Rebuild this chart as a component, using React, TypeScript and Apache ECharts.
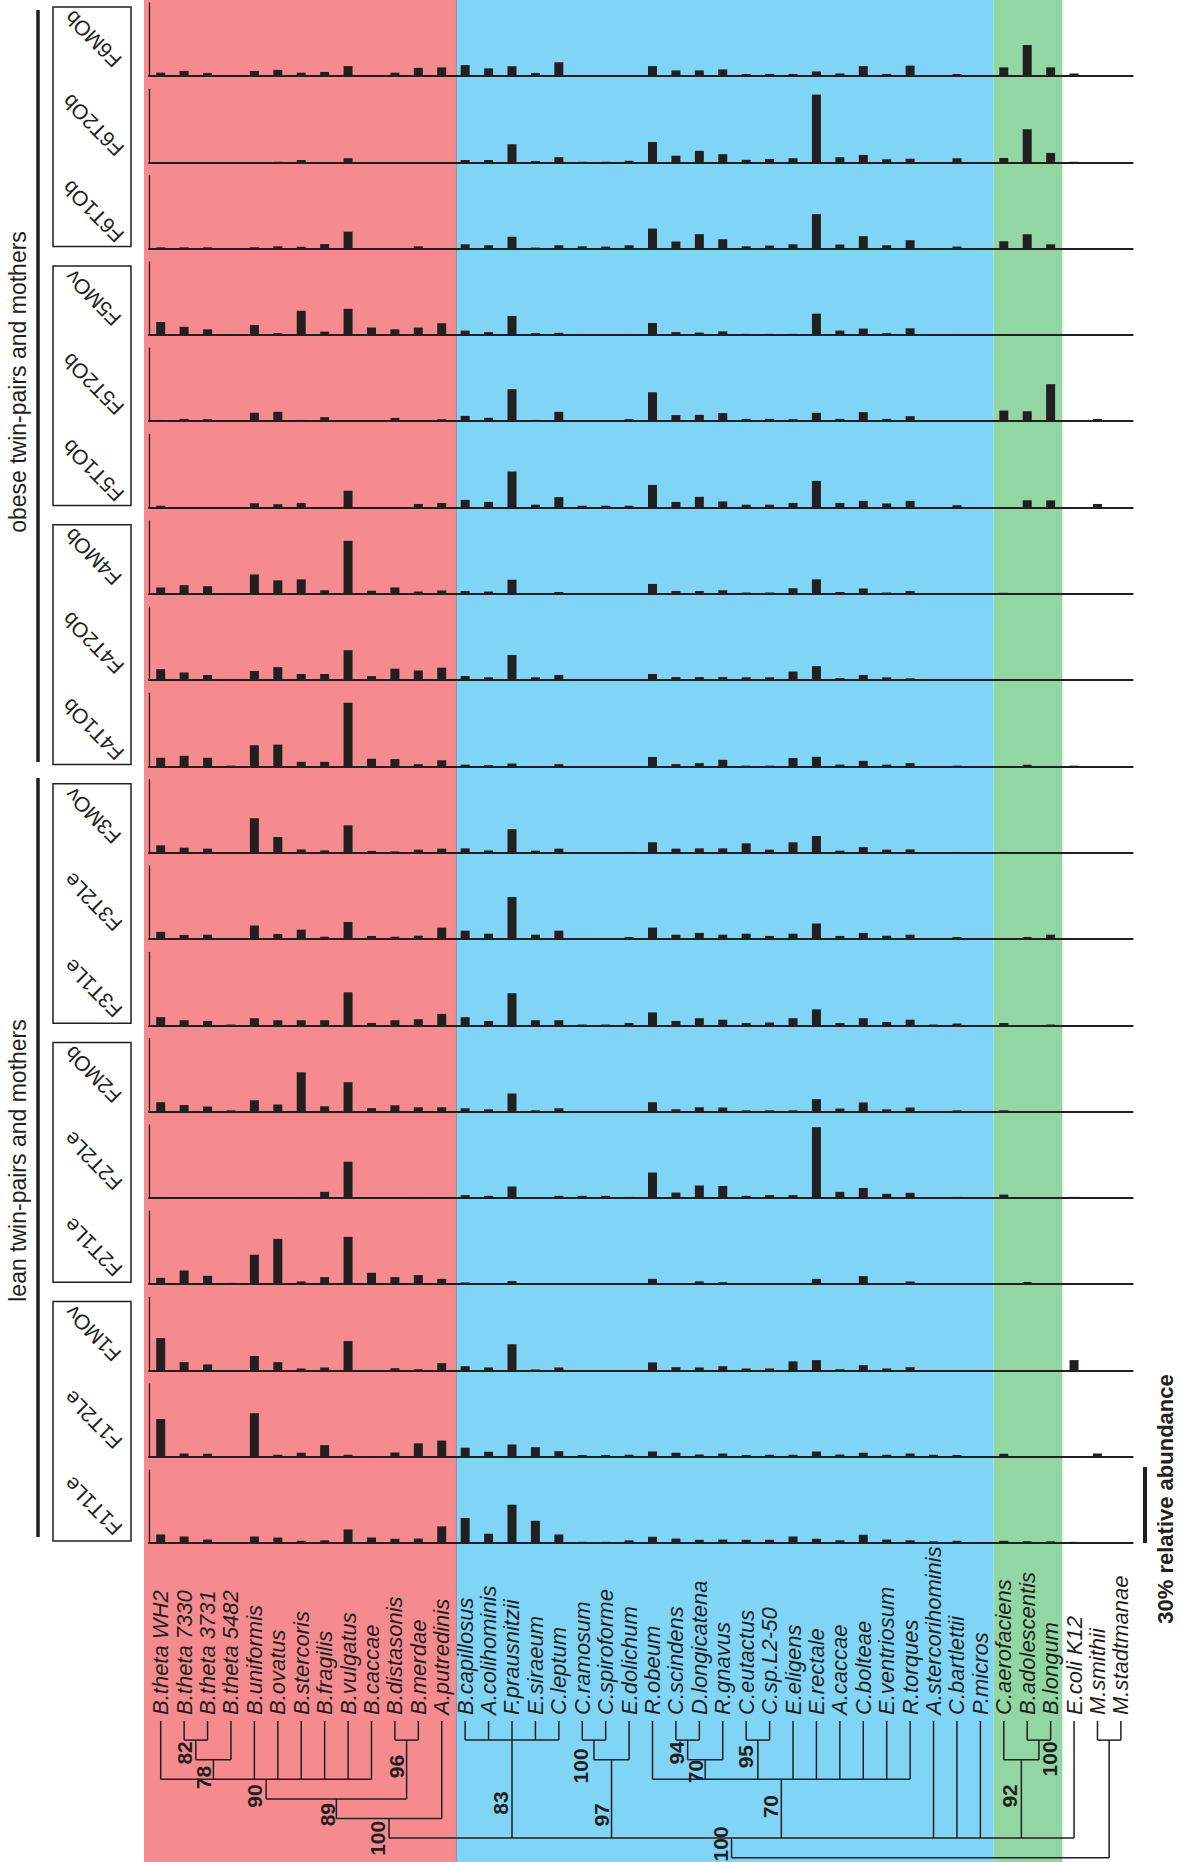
import React, { useEffect, useRef } from "react";
import * as echarts from "echarts";

// ---------------- DATA ----------------
const species = [
  "B.theta WH2", "B.theta 7330", "B.theta 3731", "B.theta 5482", "B.uniformis", "B.ovatus",
  "B.stercoris", "B.fragilis", "B.vulgatus", "B.caccae", "B.distasonis", "B.merdae", "A.putredinis",
  "B.capillosus", "A.colihominis", "F.prausnitzii", "E.siraeum", "C.leptum", "C.ramosum",
  "C.spiroforme", "E.dolichum", "R.obeum", "C.scindens", "D.longicatena", "R.gnavus", "C.eutactus",
  "C.sp.L2-50", "E.eligens", "E.rectale", "A.caccae", "C.bolteae", "E.ventriosum", "R.torques",
  "A.stercorihominis", "C.bartlettii", "P.micros",
  "C.aerofaciens", "B.adolescentis", "B.longum",
  "E.coli K12", "M.smithii", "M.stadtmanae",
];

const samples = [
  "F6MOb", "F6T2Ob", "F6T1Ob", "F5MOv", "F5T2Ob", "F5T1Ob", "F4MOb", "F4T2Ob", "F4T1Ob",
  "F3MOv", "F3T2Le", "F3T1Le", "F2MOb", "F2T2Le", "F2T1Le", "F1MOv", "F1T2Le", "F1T1Le",
];

// relative abundance (%) per species, in species order
const F6MOb = [1.3, 2.0, 1.2, 0.3, 2.0, 2.4, 1.3, 1.6, 3.9, 0.3, 1.3, 3.2, 3.4, 4.3, 3.0, 3.8, 1.2, 5.4, 0.4, 0.3, 0.4, 3.9, 2.2, 2.2, 2.6, 0.8, 0.8, 0.8, 1.8, 1.0, 3.9, 0.8, 4.1, 0.4, 0.8, 0, 3.4, 12.2, 3.4, 1.0, 0.3, 0];
const F6T2Ob = [0, 0, 0, 0, 0, 0.2, 0.9, 0, 1.6, 0, 0, 0, 0, 0.9, 0.9, 7.1, 0.5, 2.0, 0.2, 0.2, 0.6, 8.0, 2.6, 4.5, 3.2, 1.0, 1.3, 1.6, 26.7, 2.0, 2.9, 1.2, 1.4, 0, 1.6, 0, 1.7, 13.0, 3.7, 0.2, 0, 0];
const F6T1Ob = [0.5, 0.5, 0.5, 0, 0.5, 0.9, 0.7, 1.8, 6.7, 0, 0, 0.9, 0, 1.7, 1.3, 4.7, 0.4, 1.3, 0.9, 0.8, 1.3, 7.9, 2.8, 5.7, 3.7, 0.9, 1.2, 1.7, 13.6, 1.6, 4.9, 1.3, 3.3, 0, 0.8, 0, 2.9, 5.7, 1.7, 0, 0, 0];
const F5MOv = [5.1, 3.2, 2.2, 0.3, 3.9, 0.7, 9.5, 1.3, 10.3, 2.9, 2.2, 2.9, 4.6, 1.7, 1.1, 7.5, 0.7, 0.8, 0.3, 0, 0.3, 4.7, 1.1, 0.9, 1.4, 0.4, 0.4, 0.4, 8.4, 1.7, 2.5, 0.7, 2.6, 0, 0.3, 0, 0, 0, 0.3, 0, 0, 0];
const F5T2Ob = [0.5, 0.9, 0.8, 0, 3.3, 3.7, 0.5, 1.6, 0, 0.3, 1.3, 0, 0.8, 2.1, 1.3, 12.6, 0.5, 3.7, 0.4, 0, 0.8, 11.4, 2.4, 2.5, 3.2, 0.9, 0.9, 0.8, 3.3, 0.9, 3.6, 0.9, 2.0, 0, 0.4, 0, 4.2, 3.9, 14.6, 0.4, 0.9, 0];
const F5T1Ob = [0.7, 0, 0, 0, 1.7, 1.3, 1.8, 0, 6.6, 0, 0, 1.4, 1.8, 3.0, 2.2, 14.2, 1.1, 4.1, 0.7, 0.7, 0.7, 8.9, 2.2, 4.2, 2.4, 1.1, 1.1, 1.8, 10.5, 1.8, 2.6, 1.6, 2.6, 0, 0.9, 0, 0, 2.9, 2.8, 0, 1.4, 0];
const F4MOb = [2.5, 3.4, 3.0, 0.2, 7.6, 5.3, 5.7, 1.4, 20.9, 1.2, 2.5, 0.9, 1.3, 1.1, 0.9, 5.5, 0.2, 0.7, 0, 0, 0.2, 3.9, 1.1, 1.1, 1.4, 0.5, 0.5, 2.2, 5.7, 0.7, 2.1, 0.5, 1.1, 0, 0.2, 0, 0.4, 0, 0, 0.2, 0, 0];
const F4T2Ob = [4.3, 3.0, 2.0, 0.3, 3.6, 5.1, 2.4, 2.4, 11.8, 1.6, 4.5, 3.8, 4.9, 1.6, 1.1, 9.9, 1.1, 2.0, 0.3, 0, 0.3, 2.4, 1.2, 1.2, 1.2, 1.1, 1.1, 3.4, 5.5, 0.8, 2.0, 1.1, 0.7, 0, 0.4, 0, 0.3, 0.4, 0.3, 0.3, 0, 0];
const F4T1Ob = [3.4, 4.2, 3.4, 0.3, 8.3, 8.6, 1.8, 1.8, 25.1, 3.0, 2.9, 0.9, 2.4, 0.7, 0.5, 1.1, 0, 0.9, 0, 0, 0, 3.7, 0.9, 1.3, 2.6, 0.3, 0.3, 3.3, 3.8, 0.7, 2.2, 0.7, 1.3, 0, 0.3, 0, 0, 0.7, 0, 0.3, 0, 0];
const F3MOv = [2.9, 2.0, 1.6, 0, 13.6, 6.2, 1.3, 0.9, 10.8, 0.7, 0.5, 1.2, 1.6, 1.7, 0.9, 9.3, 0.8, 1.6, 0.1, 0, 0.3, 4.1, 1.6, 1.7, 1.7, 3.7, 1.2, 4.1, 6.6, 0.8, 2.2, 1.2, 1.3, 0, 0.3, 0, 0.3, 0, 0, 0, 0, 0];
const F3T2Le = [2.8, 1.6, 1.7, 0, 5.3, 2.0, 3.7, 0.9, 6.7, 1.2, 0.9, 1.3, 4.5, 3.3, 2.1, 16.6, 1.7, 3.3, 0.3, 0.3, 0.8, 4.5, 1.7, 2.4, 1.7, 2.1, 1.2, 2.1, 6.1, 1.2, 2.4, 1.3, 1.7, 0.3, 0.8, 0, 0.3, 0.8, 1.7, 0, 0, 0];
const F3T1Le = [3.2, 2.0, 1.7, 0.3, 2.8, 2.0, 2.0, 2.0, 13.0, 0.9, 2.0, 2.4, 4.5, 3.2, 1.7, 12.6, 2.0, 2.0, 0.3, 0.3, 0.9, 5.1, 1.7, 2.8, 2.2, 0.9, 1.1, 2.8, 6.3, 0.9, 2.8, 1.3, 2.2, 0.3, 0.7, 0, 0.9, 0, 0.3, 0, 0, 0];
const F2MOb = [3.7, 2.6, 2.0, 0.5, 4.5, 2.8, 15.5, 2.1, 11.6, 1.4, 2.5, 1.7, 1.7, 1.3, 0.9, 7.1, 0.5, 1.3, 0.1, 0, 0, 3.7, 0.9, 1.7, 1.6, 0.5, 0.5, 0.5, 4.9, 1.2, 3.6, 0.9, 1.6, 0, 0.5, 0, 0.5, 0, 0.1, 0.1, 0, 0];
const F2T2Le = [0.3, 0, 0, 0, 0, 0, 0.3, 2.4, 14.3, 0, 0, 0.3, 0, 1.1, 0.8, 4.5, 0.3, 0.8, 0.8, 0.8, 0.4, 10.0, 2.1, 4.9, 4.7, 0.8, 1.1, 1.1, 27.9, 2.4, 3.9, 1.6, 2.0, 0, 0.4, 0, 1.3, 0, 0, 0.4, 0, 0];
const F2T1Le = [2.5, 5.4, 3.3, 0.5, 11.6, 17.9, 1.1, 2.8, 18.7, 4.5, 2.8, 3.6, 2.1, 0.7, 0.4, 1.3, 0, 0, 0, 0, 0, 2.1, 0.4, 1.1, 0.8, 0, 0.4, 0.4, 2.1, 0.4, 3.2, 0.4, 1.1, 0, 0, 0, 0, 0.9, 0, 0, 0, 0];
const F1MOv = [12.8, 3.3, 2.4, 0, 5.7, 3.3, 0.8, 1.2, 11.6, 0, 0.9, 0.5, 2.9, 1.7, 1.2, 10.4, 0.4, 1.2, 0, 0, 0, 3.2, 1.3, 1.2, 1.7, 0.8, 0.8, 3.6, 4.1, 0.5, 2.1, 0.8, 1.3, 0, 0, 0, 0, 0, 0, 4.1, 0, 0];
const F1T2Le = [14.9, 1.3, 1.2, 0, 17.2, 0.8, 1.6, 4.6, 0.8, 0.3, 1.7, 5.3, 6.4, 3.6, 2.0, 4.9, 3.8, 2.2, 0.7, 0.7, 0.8, 2.1, 1.6, 0.9, 1.3, 0.7, 0.8, 0.8, 2.1, 0.9, 1.6, 0.8, 1.3, 0.8, 0.7, 0, 1.2, 0, 0, 0, 1.3, 0];
const F1T1Le = [3.4, 2.6, 1.4, 0, 2.6, 2.2, 0.9, 1.1, 5.4, 2.2, 1.7, 1.8, 6.6, 9.9, 3.7, 15.1, 8.8, 3.4, 0.5, 0.5, 1.1, 2.5, 1.8, 1.3, 1.4, 1.3, 1.3, 2.6, 1.7, 1.1, 3.3, 1.4, 1.1, 0.7, 0.9, 0, 0.9, 0.7, 0.7, 0.5, 0, 0];

const abundance = [
  F6MOb, F6T2Ob, F6T1Ob, F5MOv, F5T2Ob, F5T1Ob, F4MOb, F4T2Ob, F4T1Ob,
  F3MOv, F3T2Le, F3T1Le, F2MOb, F2T2Le, F2T1Le, F1MOv, F1T2Le, F1T1Le,
];

const groupLabels = ["obese twin-pairs and mothers", "lean twin-pairs and mothers"];
const scaleBarValue = 30;
const scaleBarLabel = "30% relative abundance";

// phylum bands: [first species index, last species index]
const phylumBands: [number, number][] = [[0, 12], [13, 35], [36, 38]];

// Dendrogram: internal nodes {id, level, boot?, children}; leaves are species indices
type TreeNode = number | { id: string; level: number; boot?: string; children: TreeNode[] };
const tree: TreeNode = {
  id: "root", level: 7, children: [
    {
      id: "bact", level: 6, boot: "100", children: [
        {
          id: "bacteroidetes", level: 5, boot: "100", children: [
            {
              id: "bac89", level: 4, boot: "89", children: [
                {
                  id: "bac90", level: 3, boot: "90", children: [
                    0,
                    { id: "th78", level: 2, boot: "78", children: [{ id: "th82", level: 1, boot: "82", children: [1, 2] }, 3] },
                    4, 5, 6, 7, 8, 9,
                  ],
                },
                { id: "par96", level: 1, boot: "96", children: [10, 11] },
              ],
            },
            12,
          ],
        },
        { id: "rum83", level: 1, boot: "83", children: [13, 14, 15, 16, 17] },
        { id: "ery97", level: 2, boot: "97", children: [{ id: "ery100", level: 1, boot: "100", children: [18, 19] }, 20] },
        {
          id: "lac70", level: 3, boot: "70", children: [
            21,
            { id: "lac70b", level: 2, boot: "70", children: [{ id: "lac94", level: 1, boot: "94", children: [22, 23] }, 24] },
            { id: "lac95", level: 1, boot: "95", children: [25, 26] },
            27, 28, 29, 30, 31, 32,
          ],
        },
        33, 34, 35,
        { id: "act92", level: 2, boot: "92", children: [36, { id: "act100", level: 1, boot: "100", children: [37, 38] }] },
        39,
      ],
    },
    { id: "arch", level: 1, children: [40, 41] },
  ],
};

// ---------------- STYLE ----------------
const W = 1182;
const H = 1862;
const INK = "#231f20";
const FONT = "'Liberation Sans', Arial, Helvetica, sans-serif";
const BAND_COLORS = ["#f58b8f", "#80d4f6", "#92d6a3"];
const BAND_EDGE_SHIFT = [0, 3, 1.5];
const ROW0_BASE = 76;
const ROW_STEP = 86.3;
const PLOT_H = 73;
const PLOT_LEFT = 149;
const PLOT_W = 983.6;
const Y_MAX = 28.8;
const LEAF_TOP = 1721;
const LEVEL0 = 1720.5;
const LEVEL_STEP = 19.6;
const labelNudge: Record<string, [number, number]> = {
  bact: [-11, -4], bacteroidetes: [-12, 10], bac89: [-9, 6], bac90: [-12, 7], th78: [-10, 8], th82: [-11, 3],
  par96: [-10, -3], rum83: [-11, 14], ery97: [-10, 16], ery100: [-13, 16], lac70: [-11, -2], lac70b: [-10, 2],
  lac94: [-11, 3], lac95: [-12, -3], act92: [-12, -3], act100: [11, 9],
};

export default function App() {
  const ref = useRef<HTMLDivElement>(null);

  useEffect(() => {
    document.body.style.margin = "0";
    const el = ref.current!;
    const chart = echarts.init(el, undefined, { renderer: "svg", width: W, height: H });
    const n = samples.length;
    const last = n - 1;
    const base = (k: number) => ROW0_BASE + ROW_STEP * k;

    const grids = samples.map((_, k) => ({ left: PLOT_LEFT, top: base(k) - PLOT_H, width: PLOT_W, height: PLOT_H }));
    const xAxes = samples.map((_, k) => ({
      type: "category",
      gridIndex: k,
      data: species,
      axisLine: { show: true, lineStyle: { color: INK, width: 2 } },
      axisTick: { show: false },
      splitLine: { show: false },
      axisLabel: k === last
        ? {
            show: true, interval: 0, rotate: 90, margin: LEAF_TOP - 6 - base(last), align: "left",
            verticalAlign: "middle", color: INK, fontFamily: FONT, fontStyle: "italic", fontSize: 22,
          }
        : { show: false },
    }));
    const yAxes = samples.map((_, k) => ({
      type: "value",
      gridIndex: k,
      min: 0,
      max: Y_MAX,
      axisLine: { show: true, lineStyle: { color: INK, width: 1.3 } },
      axisTick: { show: false },
      axisLabel: { show: false },
      splitLine: { show: false },
    }));
    const series = samples.map((s, k) => ({
      name: s,
      type: "bar",
      xAxisIndex: k,
      yAxisIndex: k,
      data: abundance[k],
      barWidth: 9,
      itemStyle: { color: INK },
      silent: true,
      z: 3,
    }));

    chart.setOption({ animation: false, grid: grids, xAxis: xAxes, yAxis: yAxes, series });

    const colX = species.map((_, i) => {
      const p = chart.convertToPixel({ xAxisIndex: last } as any, i) as any;
      return typeof p === "number" && isFinite(p) ? p : PLOT_LEFT + ((i + 0.5) * PLOT_W) / species.length;
    });
    const y0 = chart.convertToPixel({ yAxisIndex: last } as any, 0) as any;
    const yS = chart.convertToPixel({ yAxisIndex: last } as any, scaleBarValue) as any;
    const barBottom = typeof y0 === "number" && isFinite(y0) ? y0 : base(last);
    const barTop = typeof yS === "number" && isFinite(yS) ? yS : base(last) - (scaleBarValue / Y_MAX) * PLOT_H;

    const els: any[] = [];
    // background phylum bands
    phylumBands.forEach(([a, b], i) => {
      const x1 = a === 0 ? PLOT_LEFT - 5 : (colX[a - 1] + colX[a]) / 2 + BAND_EDGE_SHIFT[i];
      const x2 = (colX[b] + colX[b + 1]) / 2 + (BAND_EDGE_SHIFT[i + 1] ?? 0);
      els.push({ type: "rect", silent: true, z: -10, shape: { x: x1, y: 0, width: x2 - x1, height: H }, style: { fill: BAND_COLORS[i] } });
    });
    const bx = (colX[12] + colX[13]) / 2 + BAND_EDGE_SHIFT[1];
    els.push({ type: "line", silent: true, z: -9, shape: { x1: bx, y1: 0, x2: bx, y2: H }, style: { stroke: "#8a93a6", lineWidth: 1 } });

    // sample boxes & labels
    for (let g = 0; g < n / 3; g++) {
      const top = base(3 * g) - PLOT_H + 4;
      const bottom = base(3 * g + 2) - 2;
      els.push({ type: "rect", silent: true, shape: { x: 53, y: top, width: 78, height: bottom - top }, style: { fill: "#fff", stroke: INK, lineWidth: 1.5 } });
    }
    samples.forEach((s, k) => {
      els.push({
        type: "text", silent: true, x: 93, y: base(k) - 37, rotation: (3 * Math.PI) / 4,
        style: { text: s, fill: INK, fontSize: 21, fontFamily: FONT, align: "center", verticalAlign: "middle", textAlign: "center", textVerticalAlign: "middle" },
      });
    });
    // group brackets
    const groups: [number, number][] = [[10, 762], [778, 1537]];
    groups.forEach(([t, b], i) => {
      els.push({ type: "line", silent: true, shape: { x1: 38, y1: t, x2: 38, y2: b }, style: { stroke: INK, lineWidth: 3.5 } });
      els.push({
        type: "text", silent: true, x: 18, y: (t + b) / 2 + (i === 0 ? -4 : 3), rotation: Math.PI / 2,
        style: { text: groupLabels[i], fill: INK, fontSize: 23, fontFamily: FONT, align: "center", verticalAlign: "middle", textAlign: "center", textVerticalAlign: "middle" },
      });
    });
    // scale bar
    els.push({ type: "line", silent: true, shape: { x1: 1145, y1: barTop, x2: 1145, y2: barBottom }, style: { stroke: INK, lineWidth: 4 } });
    els.push({
      type: "text", silent: true, x: 1165, y: 1499, rotation: Math.PI / 2,
      style: { text: scaleBarLabel, fill: INK, fontSize: 22, fontWeight: "bold", fontFamily: FONT, align: "center", verticalAlign: "middle", textAlign: "center", textVerticalAlign: "middle" },
    });

    // dendrogram
    const levelY = (l: number) => LEVEL0 + LEVEL_STEP * l;
    const lineStyle = { stroke: INK, lineWidth: 1.5 };
    const layout = (node: TreeNode, parentY: number | null): number => {
      if (typeof node === "number") {
        const x = colX[node];
        if (parentY !== null) els.push({ type: "line", silent: true, shape: { x1: x, y1: LEAF_TOP, x2: x, y2: parentY }, style: lineStyle });
        return x;
      }
      const y = levelY(node.level);
      const xs = node.children.map((c) => layout(c, y));
      const x = (xs[0] + xs[xs.length - 1]) / 2;
      els.push({ type: "line", silent: true, shape: { x1: xs[0], y1: y, x2: xs[xs.length - 1], y2: y }, style: lineStyle });
      if (parentY !== null) {
        els.push({ type: "line", silent: true, shape: { x1: x, y1: y, x2: x, y2: parentY }, style: lineStyle });
        if (node.boot) {
          const [dx, dy] = labelNudge[node.id] || [-11, 5];
          els.push({
            type: "text", silent: true, x: x + dx, y: (y + parentY) / 2 + dy, rotation: Math.PI / 2,
            style: { text: node.boot, fill: INK, fontSize: 21, fontWeight: "bold", fontFamily: FONT, align: "center", verticalAlign: "middle", textAlign: "center", textVerticalAlign: "middle" },
          });
        }
      }
      return x;
    };
    layout(tree, null);

    chart.setOption({ graphic: { elements: els } });
    return () => chart.dispose();
  }, []);

  return <div ref={ref} style={{ position: "absolute", left: 0, top: 0, width: W, height: H }} />;
}
